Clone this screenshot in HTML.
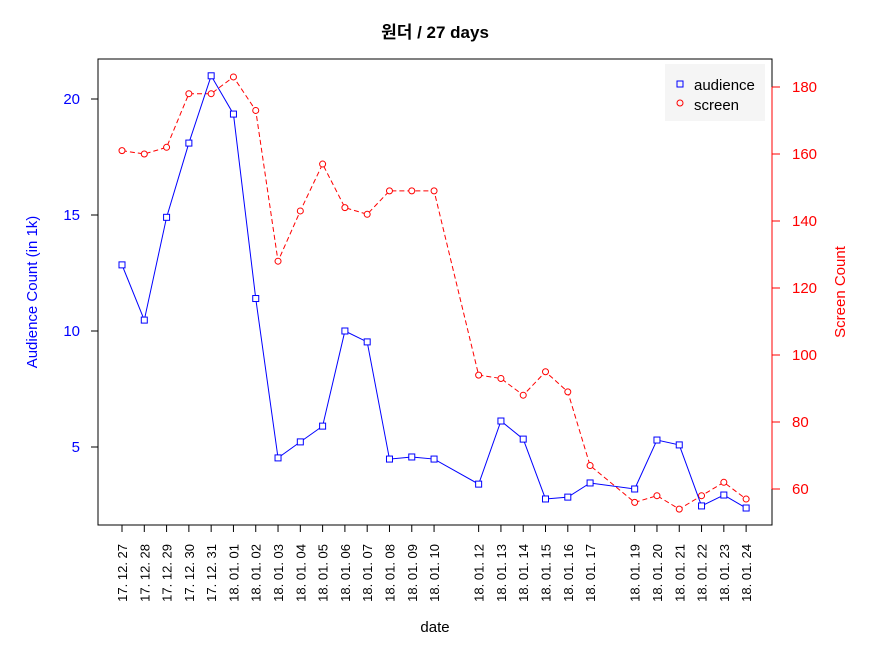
<!DOCTYPE html>
<html><head><meta charset="utf-8"><style>
body{margin:0;background:#fff;}
svg text{font-family:"Liberation Sans","Noto Sans CJK KR",sans-serif;}
</style></head><body>
<svg width="870" height="653" xmlns="http://www.w3.org/2000/svg">
<g id="root"></g>
</svg>
<script>
const dates=["17. 12. 27","17. 12. 28","17. 12. 29","17. 12. 30","17. 12. 31","18. 01. 01","18. 01. 02","18. 01. 03","18. 01. 04","18. 01. 05","18. 01. 06","18. 01. 07","18. 01. 08","18. 01. 09","18. 01. 10","18. 01. 12","18. 01. 13","18. 01. 14","18. 01. 15","18. 01. 16","18. 01. 17","18. 01. 19","18. 01. 20","18. 01. 21","18. 01. 22","18. 01. 23","18. 01. 24"];
const dayIndex=[0,1,2,3,4,5,6,7,8,9,10,11,12,13,14,16,17,18,19,20,21,23,24,25,26,27,28];
const audience=[12.85,10.47,14.9,18.1,21.0,19.35,11.4,4.53,5.22,5.9,10.0,9.53,4.48,4.57,4.48,3.4,6.12,5.34,2.76,2.84,3.45,3.19,5.3,5.09,2.46,2.93,2.37];
const screen=[161,160,162,178,178,183,173,128,143,157,144,142,149,149,149,94,93,88,95,89,67,56,58,54,58,62,57];
const leftTicks=[5,10,15,20];
const rightTicks=[60,80,100,120,140,160,180];
const NS="http://www.w3.org/2000/svg";
const root=document.getElementById('root');
function mk(t,a,txt){const e=document.createElementNS(NS,t);for(const k in a)e.setAttribute(k,a[k]);if(txt!=null)e.textContent=txt;root.appendChild(e);return e;}
const X=d=>122+d*22.29;
const YL=v=>99+(20-v)*23.2;
const YR=v=>87+(180-v)*3.35;
let e;
e=mk('rect',{x:98,y:59,width:674,height:466,fill:'none',stroke:'#000'});

e=mk('text',{x:435,y:38,'text-anchor':'middle','font-size':17,'font-weight':'bold'},'원더 / 27 days');

// left axis
mk('line',{x1:98,x2:98,y1:YL(5),y2:YL(20),stroke:'#000'});
leftTicks.forEach(v=>{mk('line',{x1:91,x2:98,y1:YL(v),y2:YL(v),stroke:'#000'});
e=mk('text',{x:80,y:YL(v)+5,'text-anchor':'end','font-size':15,fill:'#0000ff'},v);
});
e=mk('text',{x:0,y:0,transform:'translate(37,292) rotate(-90)','text-anchor':'middle','font-size':15,fill:'#0000ff'},'Audience Count (in 1k)');

// right axis
mk('line',{x1:772,x2:772,y1:YR(60),y2:YR(180),stroke:'#ff0000'});
rightTicks.forEach(v=>{mk('line',{x1:772,x2:780,y1:YR(v),y2:YR(v),stroke:'#ff0000'});
e=mk('text',{x:792,y:YR(v)+5,'font-size':15,fill:'#ff0000'},v);
});
e=mk('text',{x:0,y:0,transform:'translate(845,292) rotate(-90)','text-anchor':'middle','font-size':15,fill:'#ff0000'},'Screen Count');

// x axis
mk('line',{x1:X(0),x2:X(28),y1:525,y2:525,stroke:'#000'});
dates.forEach((d,i)=>{const x=X(dayIndex[i]);mk('line',{x1:x,x2:x,y1:525,y2:532,stroke:'#000'});
e=mk('text',{x:0,y:0,transform:`translate(${x+5},544) rotate(-90)`,'text-anchor':'end','font-size':13},d);
});
e=mk('text',{x:435,y:632,'text-anchor':'middle','font-size':15},'date');

// screen line
e=mk('polyline',{points:screen.map((v,i)=>X(dayIndex[i])+','+YR(v)).join(' '),fill:'none',stroke:'#ff0000','stroke-dasharray':'5,3'});

screen.forEach((v,i)=>{e=mk('circle',{cx:X(dayIndex[i]),cy:YR(v),r:3,fill:'#fff',stroke:'#ff0000'});
});
// audience line
e=mk('polyline',{points:audience.map((v,i)=>X(dayIndex[i])+','+YL(v)).join(' '),fill:'none',stroke:'#0000ff'});

audience.forEach((v,i)=>{e=mk('rect',{x:X(dayIndex[i])-3,y:YL(v)-3,width:6,height:6,fill:'#fff',stroke:'#0000ff'});
});
// legend
e=mk('rect',{x:665,y:64,width:100,height:57,fill:'#f5f5f5'});

mk('rect',{x:677,y:81,width:6,height:6,fill:'none',stroke:'#0000ff'});
e=mk('text',{x:694,y:90,'font-size':15},'audience');

mk('circle',{cx:680,cy:103,r:3,fill:'none',stroke:'#ff0000'});
e=mk('text',{x:694,y:110,'font-size':15},'screen');

</script>
</body></html>
